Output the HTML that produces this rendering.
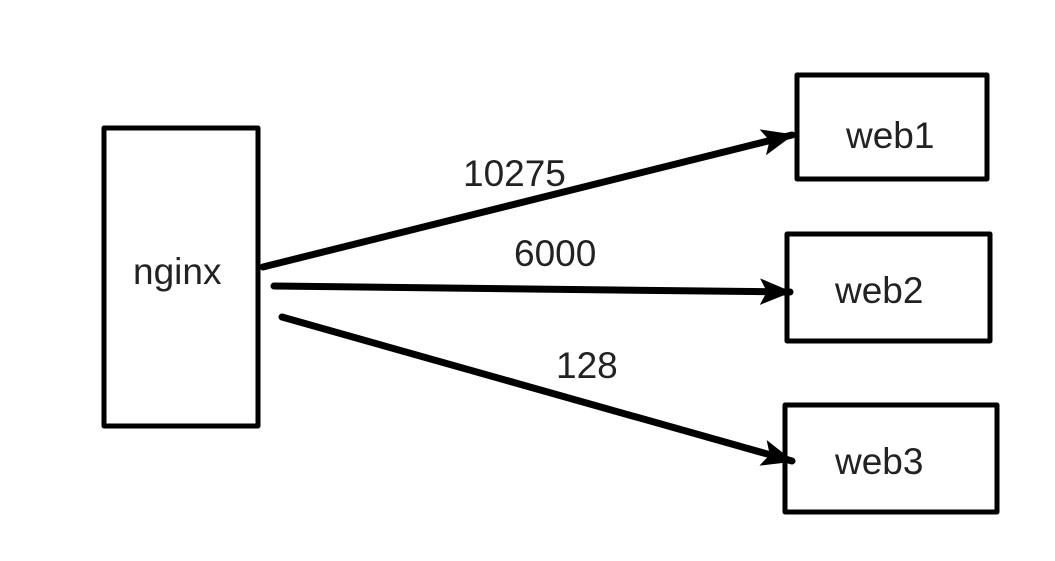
<!DOCTYPE html>
<html><head><meta charset="utf-8"><style>
html,body{margin:0;padding:0;background:#fff;}
svg{display:block}
text{font-family:"Liberation Sans","DejaVu Sans",sans-serif;font-size:37px;fill:#222;}
</style></head><body>
<svg width="1055" height="561" viewBox="0 0 1055 561">
<defs>
<marker id="a" markerWidth="6" markerHeight="6" refX="4.3" refY="3" orient="auto" markerUnits="strokeWidth">
<path d="M0,1.1 L4.6,3 L0,4.9 L1,3 Z" fill="#000"/>
</marker>
</defs>
<g fill="none" stroke="#000" stroke-width="5" stroke-linejoin="round">
<rect x="104" y="128" width="154" height="298"/>
<rect x="797" y="75" width="190" height="104"/>
<rect x="787" y="234" width="203" height="107"/>
<rect x="785" y="405" width="212" height="107"/>
</g>
<g stroke="#000" stroke-width="7" stroke-linecap="round" fill="none">
<line x1="263" y1="267" x2="792" y2="135" marker-end="url(#a)"/>
<line x1="274" y1="286" x2="790" y2="292" marker-end="url(#a)"/>
<line x1="282" y1="317" x2="792" y2="461" marker-end="url(#a)"/>
</g>
<text x="133" y="284">nginx</text>
<text x="846" y="148">web1</text>
<text x="835" y="303">web2</text>
<text x="835" y="474">web3</text>
<text x="463" y="186">10275</text>
<text x="514" y="266">6000</text>
<text x="556" y="378">128</text>
</svg>
</body></html>
